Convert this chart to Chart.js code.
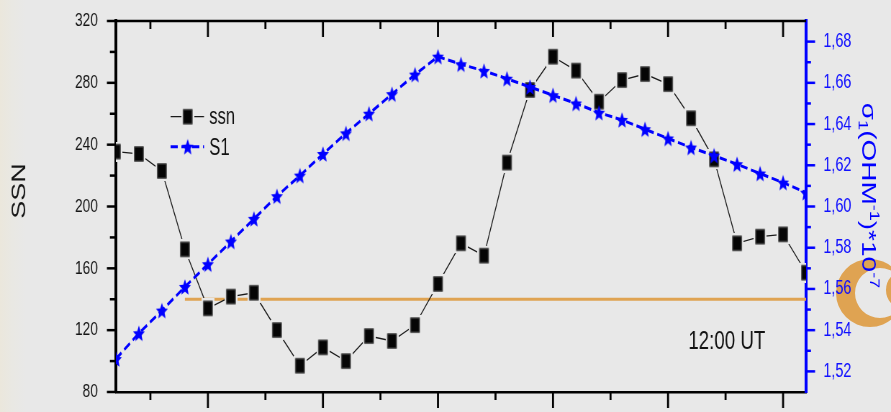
<!DOCTYPE html>
<html>
<head>
<meta charset="utf-8">
<script src="https://cdn.jsdelivr.net/npm/chart.js@4.4.1/dist/chart.umd.min.js"></script>
<style>
  html, body { margin: 0; padding: 0; width: 891px; height: 412px; overflow: hidden; }
  body { background: linear-gradient(90deg, #ebe7dc 0px, #e9e8e3 12px, #e8e8e8 26px); position: relative; }
  #deco { position: absolute; left: 0; top: 0; z-index: 0; }
  /* the figure is laid out wide and narrowed to its final width */
  #wrap { position: absolute; left: 0; top: 0; width: 1238px; height: 412px;
          transform: scaleX(0.719709); transform-origin: 0 0; z-index: 1; }
  canvas { display: block; }
</style>
</head>
<body>
<svg id="deco" width="891" height="412">
  <path fill="#dfa352" fill-rule="evenodd"
        d="M 836 293 a 34 34 0 1 0 68 0 a 34 34 0 1 0 -68 0 Z M 855 293 a 25 25 0 1 0 50 0 a 25 25 0 1 0 -50 0 Z"/>
  <circle cx="906" cy="290" r="17" fill="none" stroke="#dfa352" stroke-width="6"/>
</svg>
<div id="wrap"><canvas id="chart" width="1238" height="412"></canvas></div>
<script>
// ---- data ----
const steps = [0, 1, 2, 3, 4, 5, 6, 7, 8, 9, 10, 11, 12, 13, 14, 15,
               16, 17, 18, 19, 20, 21, 22, 23, 24, 25, 26, 27, 28, 29, 30];
const ssn = [235.5, 234, 223, 172.3, 134.1, 141.7, 144.2, 120.1, 97, 108.9, 100,
             116.2, 113, 123.3, 149.9, 176.2, 168.2, 228.4, 275.4, 296.9, 287.9,
             267.8, 281.8, 285.7, 279.2, 257.1, 230.5, 176.2, 180.5, 182, 157.2];
const s1 = [1.526, 1.5385, 1.5495, 1.561, 1.572, 1.583, 1.594, 1.605, 1.615, 1.6255,
            1.6355, 1.645, 1.6545, 1.664, 1.6727, 1.669, 1.6658, 1.662, 1.658, 1.654,
            1.650, 1.6455, 1.642, 1.6375, 1.633, 1.6286, 1.6247, 1.6205, 1.616, 1.6116, 1.6067];
// reference SSN level
const levelSteps = [3, 30];
const levelValues = [140, 140];

// ---- axis ticks ----
const ssnTicks = [80, 120, 160, 200, 240, 280, 320];
const ssnMinor = [100, 140, 180, 220, 260, 300];
const s1Ticks = [1.52, 1.54, 1.56, 1.58, 1.60, 1.62, 1.64, 1.66, 1.68];
const s1Minor = [1.53, 1.55, 1.57, 1.59, 1.61, 1.63, 1.65, 1.67];
const stepMajor = [4, 9, 14, 19, 24, 29];
const stepMinor = [1.5, 6.5, 11.5, 16.5, 21.5, 26.5];

const FONT = "'Liberation Sans', Arial, sans-serif";
const BG = '#e8e8e8';
const BLUE = '#0000ff';

// ---- marker images ----
function squareMarker() {
  const w = 13, h = 15, halo = 2.5;
  const c = document.createElement('canvas');
  c.width = Math.ceil(w + 2 * halo); c.height = Math.ceil(h + 2 * halo);
  const g = c.getContext('2d');
  g.fillStyle = BG; g.fillRect(0, 0, c.width, c.height);
  g.fillStyle = '#050505'; g.fillRect(halo, halo, w, h);
  g.strokeStyle = '#4a4a4a'; g.lineWidth = 1; g.strokeRect(halo + 0.5, halo + 0.5, w - 1, h - 1);
  return c;
}
function starMarker() {
  const R = 8.7, r = R * 0.45;
  const c = document.createElement('canvas');
  c.width = 20; c.height = 20;
  const g = c.getContext('2d');
  g.translate(10, 10 + 0.095 * R);
  g.beginPath();
  for (let i = 0; i < 10; i++) {
    const a = -Math.PI / 2 + i * Math.PI / 5;
    const rr = i % 2 ? r : R;
    g.lineTo(rr * Math.cos(a), rr * Math.sin(a));
  }
  g.closePath();
  g.fillStyle = BLUE; g.fill();
  return c;
}
const squareImg = squareMarker();
const starImg = starMarker();

function seg(ctx, x1, y1, x2, y2) {
  ctx.beginPath(); ctx.moveTo(x1, y1); ctx.lineTo(x2, y2); ctx.stroke();
}

// ---- frame, tick marks, titles, legend and note ----
const decorations = {
  id: 'decorations',
  afterDraw(chart) {
    const { ctx, chartArea: a, scales } = chart;
    const xs = scales.x, ys = scales.y, yr = scales.y1;
    ctx.save();
    ctx.lineCap = 'butt';

    // top frame line
    ctx.strokeStyle = '#000'; ctx.lineWidth = 2.5;
    seg(ctx, a.left - 2, a.top, a.right, a.top);

    // step ticks: inward on top, outward at bottom
    ctx.lineWidth = 2.8;
    stepMajor.forEach(v => {
      const px = xs.getPixelForValue(v);
      seg(ctx, px, a.top, px, a.top + 16);
      seg(ctx, px, a.bottom, px, a.bottom + 16);
    });
    stepMinor.forEach(v => {
      const px = xs.getPixelForValue(v);
      seg(ctx, px, a.top, px, a.top + 8);
      seg(ctx, px, a.bottom, px, a.bottom + 8);
    });

    // SSN ticks
    ctx.lineWidth = 2.5;
    ssnTicks.forEach(v => { const py = ys.getPixelForValue(v); seg(ctx, a.left - 12.5, py, a.left, py); });
    ssnMinor.forEach(v => { const py = ys.getPixelForValue(v); seg(ctx, a.left - 8.3, py, a.left, py); });

    // conductivity ticks
    ctx.strokeStyle = BLUE;
    s1Ticks.forEach(v => { const py = yr.getPixelForValue(v); seg(ctx, a.right, py, a.right + 12.5, py); });
    s1Minor.forEach(v => { const py = yr.getPixelForValue(v); seg(ctx, a.right, py, a.right + 6.8, py); });

    // left axis title
    ctx.save();
    ctx.translate(27.4, 191);
    ctx.rotate(-Math.PI / 2);
    ctx.fillStyle = '#151515';
    ctx.font = `27px ${FONT}`;
    ctx.textAlign = 'center'; ctx.textBaseline = 'middle';
    ctx.fillText('SSN', 0, 0);
    ctx.restore();

    // right axis title with sub/superscripts
    const parts = [
      { t: 'σ', s: 0 }, { t: '1', s: -1 }, { t: '(OHM', s: 0 }, { t: '-1', s: 1 },
      { t: ')*10', s: 0 }, { t: '-7', s: 1 }
    ];
    const big = `28px ${FONT}`, small = `18px ${FONT}`;
    let total = 0;
    parts.forEach(p => { ctx.font = p.s ? small : big; p.w = ctx.measureText(p.t).width; total += p.w; });
    ctx.save();
    ctx.translate(1207.5, 195.5);
    ctx.rotate(Math.PI / 2);
    ctx.fillStyle = BLUE;
    ctx.textAlign = 'left'; ctx.textBaseline = 'alphabetic';
    let cx = -total / 2;
    parts.forEach(p => {
      ctx.font = p.s ? small : big;
      const dy = p.s === 1 ? -11 : (p.s === -1 ? 5 : 0);
      ctx.fillText(p.t, cx, 10 + dy);
      cx += p.w;
    });
    ctx.restore();

    // legend
    const rows = [
      { ds: chart.data.datasets[1], img: squareImg, base: 124, cy: 116.7 },
      { ds: chart.data.datasets[0], img: starImg, base: 155, cy: 146.7 }
    ];
    rows.forEach(r => {
      ctx.save();
      ctx.strokeStyle = r.ds.borderColor;
      ctx.lineWidth = r.ds.borderWidth;
      ctx.setLineDash(r.ds.borderDash || []);
      seg(ctx, a.left + 76, r.cy, a.left + 122.5, r.cy);
      ctx.setLineDash([]);
      ctx.drawImage(r.img, a.left + 99.8 - r.img.width / 2, r.cy - r.img.height / 2);
      ctx.fillStyle = '#111';
      ctx.font = `23px ${FONT}`;
      ctx.textAlign = 'left'; ctx.textBaseline = 'alphabetic';
      ctx.fillText(r.ds.label, a.left + 129.8, r.base);
      ctx.restore();
    });

    // time note
    ctx.fillStyle = '#111';
    ctx.font = `26px ${FONT}`;
    ctx.textAlign = 'left'; ctx.textBaseline = 'alphabetic';
    ctx.fillText('12:00 UT', a.left + 795.4, 349.3);

    ctx.restore();
  }
};

// vertical scales: fixed box width, no extra label padding at the ends
function fixWidth(w) {
  return s => { s.width = w; s.paddingTop = 0; s.paddingBottom = 0; };
}

const ctx = document.getElementById('chart').getContext('2d');
new Chart(ctx, {
  type: 'line',
  data: {
    datasets: [
      {
        label: 'S1',
        data: steps.map((x, i) => ({ x, y: s1[i] })),
        yAxisID: 'y1',
        borderColor: BLUE,
        borderWidth: 3,
        borderDash: [10, 5],
        pointStyle: starImg,
        pointRadius: 8,
        fill: false,
        tension: 0,
        order: 0
      },
      {
        label: 'ssn',
        data: steps.map((x, i) => ({ x, y: ssn[i] })),
        yAxisID: 'y',
        borderColor: '#1a1a1a',
        borderWidth: 1.3,
        pointStyle: squareImg,
        pointRadius: 8,
        fill: false,
        tension: 0,
        order: 1
      },
      {
        label: 'level',
        data: levelSteps.map((x, i) => ({ x, y: levelValues[i] })),
        yAxisID: 'y',
        borderColor: '#dfa352',
        borderWidth: 3,
        pointRadius: 0,
        fill: false,
        order: 2
      }
    ]
  },
  options: {
    responsive: false,
    animation: false,
    devicePixelRatio: 1,
    layout: { autoPadding: false, padding: { top: 21, left: 0, right: 0, bottom: 0 } },
    plugins: { legend: { display: false }, tooltip: { enabled: false } },
    scales: {
      x: {
        type: 'linear', position: 'bottom', min: 0, max: 30,
        ticks: { display: false },
        grid: { display: false, drawTicks: false },
        border: { display: true, color: '#000', width: 2.5 },
        afterFit(s) { s.height = 20; s.paddingLeft = 0; s.paddingRight = 0; }
      },
      y: {
        type: 'linear', position: 'left', min: 80, max: 320,
        afterBuildTicks(s) { s.ticks = ssnTicks.map(v => ({ value: v })); },
        ticks: { padding: 25, color: '#151515', font: { family: FONT, size: 19 } },
        grid: { display: false, drawTicks: false },
        border: { display: true, color: '#000', width: 4 },
        afterFit: fixWidth(161)
      },
      y1: {
        type: 'linear', position: 'right', min: 1.51, max: 1.69,
        afterBuildTicks(s) { s.ticks = s1Ticks.map(v => ({ value: v })); },
        ticks: {
          padding: 24, color: '#1010ff', font: { family: FONT, size: 20 },
          callback: v => v.toFixed(2).replace('.', ',')
        },
        grid: { display: false, drawTicks: false },
        border: { display: true, color: BLUE, width: 4 },
        afterFit: fixWidth(118)
      }
    }
  },
  plugins: [decorations]
});
</script>
</body>
</html>
